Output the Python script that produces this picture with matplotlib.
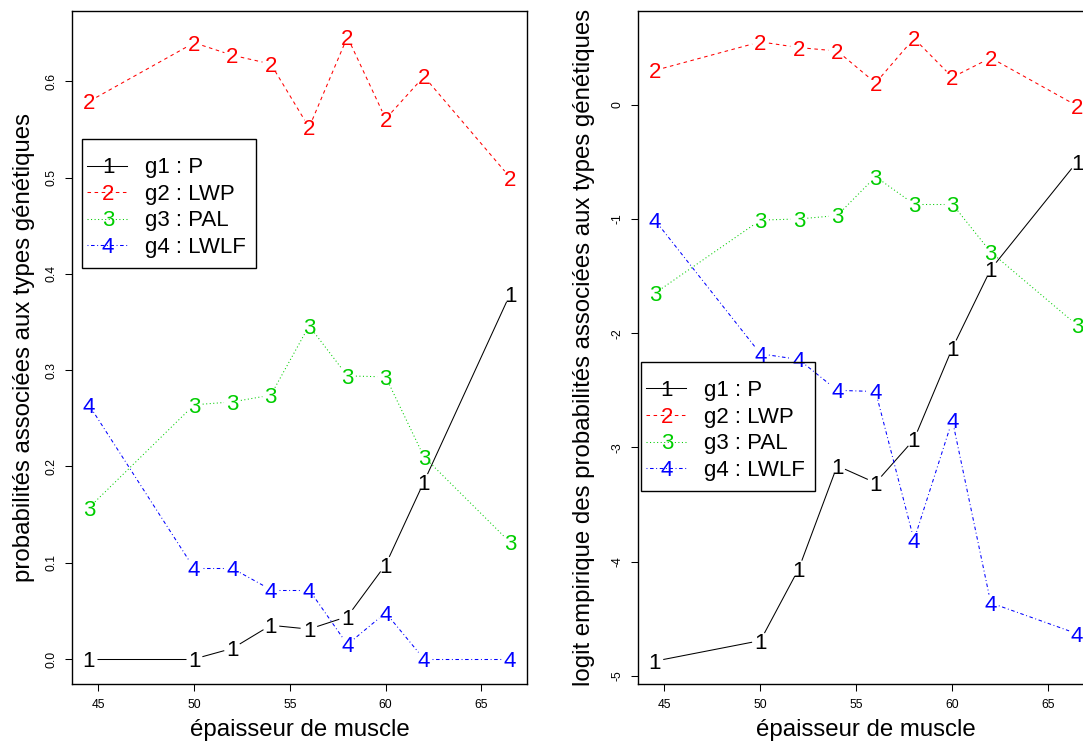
import matplotlib
matplotlib.use("Agg")
import matplotlib.pyplot as plt
from matplotlib.patches import Rectangle
from matplotlib.lines import Line2D
from matplotlib import transforms
import numpy as np

plt.rcParams['font.family'] = ['Liberation Sans', 'DejaVu Sans']

# ---------------- data ----------------
epaisseur = [44.5, 50, 52, 54, 56, 58, 60, 62, 66.5]

prob_g1 = [0.000, 0.000, 0.011, 0.035, 0.031, 0.044, 0.098, 0.184, 0.379]
prob_g2 = [0.579, 0.640, 0.627, 0.618, 0.552, 0.646, 0.561, 0.605, 0.500]
prob_g3 = [0.157, 0.264, 0.267, 0.274, 0.346, 0.294, 0.293, 0.210, 0.121]
prob_g4 = [0.264, 0.094, 0.094, 0.072, 0.072, 0.015, 0.048, 0.000, 0.000]

logit_g1 = [-4.87, -4.69, -4.06, -3.16, -3.31, -2.93, -2.13, -1.44, -0.50]
logit_g2 = [0.30, 0.55, 0.50, 0.47, 0.19, 0.58, 0.24, 0.41, -0.01]
logit_g3 = [-1.65, -1.01, -1.00, -0.97, -0.63, -0.87, -0.87, -1.29, -1.93]
logit_g4 = [-1.01, -2.18, -2.23, -2.50, -2.51, -3.81, -2.76, -4.36, -4.63]

series_symbols = ["1", "2", "3", "4"]
legend_labels = ["g1 : P", "g2 : LWP", "g3 : PAL", "g4 : LWLF"]
colors = ["#000000", "#FF0000", "#00CD00", "#0000FF"]
dash_styles = ["-", (0, (3.4, 3.4)), (0, (1.0, 2.4)), (0, (0.9, 2.5, 3.4, 2.5))]

x_ticks = [45, 50, 55, 60, 65]
left_yticks = [0.0, 0.1, 0.2, 0.3, 0.4, 0.5, 0.6]
left_yticklabels = ["0.0", "0.1", "0.2", "0.3", "0.4", "0.5", "0.6"]
right_yticks = [0, -1, -2, -3, -4, -5]
right_yticklabels = ["0", "-1", "-2", "-3", "-4", "-5"]

xlabel = "épaisseur de muscle"
left_ylabel = "probabilités associées aux types génétiques"
right_ylabel = "logit empirique des probabilités associées aux types génétiques"

# ---------------- layout ----------------
W, H = 1083, 745
DPI = 100
fig = plt.figure(figsize=(W / DPI, H / DPI), dpi=DPI)


def fx(px):
    return px / W


def fy(py):
    return 1 - py / H


axL = fig.add_axes([fx(72), fy(684), (527 - 72) / W, (684 - 11) / H])
axR = fig.add_axes([fx(638), fy(684), (1094 - 638) / W, (684 - 11) / H])

XLIM = (43.62, 67.38)
axL.set_xlim(*XLIM)
axR.set_xlim(*XLIM)
axL.set_ylim(-0.026, 0.673)
axR.set_ylim(-5.07, 0.82)

LABEL_FS = 16
CAP = 0.716 * LABEL_FS * DPI / 72.0  # digit height in px
GAP = 8.5  # px gap around symbols (type = "b")


def draw_series(ax, xs, ys, color, ls, sym):
    tr = ax.transData
    inv = tr.inverted()
    pts = tr.transform(np.column_stack([xs, ys]))
    for i in range(len(pts) - 1):
        p0, p1 = pts[i], pts[i + 1]
        d = p1 - p0
        L = np.hypot(*d)
        if L <= 2 * GAP:
            continue
        u = d / L
        a = inv.transform(p0 + u * GAP)
        b = inv.transform(p1 - u * GAP)
        ax.plot([a[0], b[0]], [a[1], b[1]], color=color, lw=0.75,
                linestyle=ls, solid_capstyle='butt', dash_capstyle='butt',
                clip_on=False)
    off = transforms.offset_copy(tr, fig=fig, x=0, y=-CAP / 2, units='dots')
    for x, y in zip(xs, ys):
        ax.text(x, y, sym, transform=off, ha='center', va='baseline',
                fontsize=LABEL_FS, color=color, clip_on=False)


def style_axes(ax, yticks, yticklabels):
    for s in ax.spines.values():
        s.set_linewidth(1.0)
        s.set_color('black')
    ax.set_xticks(x_ticks)
    ax.set_xticklabels([str(t) for t in x_ticks])
    ax.set_yticks(yticks)
    ax.set_yticklabels(yticklabels)
    ax.tick_params(axis='both', direction='out', length=5, width=0.75,
                   labelsize=8.7, pad=5.5, colors='black')
    for lab in ax.get_yticklabels():
        lab.set_rotation(90)
        lab.set_va('center')
        lab.set_ha('right')


style_axes(axL, left_yticks, left_yticklabels)
style_axes(axR, right_yticks, right_yticklabels)

left_data = [prob_g1, prob_g2, prob_g3, prob_g4]
right_data = [logit_g1, logit_g2, logit_g3, logit_g4]
for k in range(4):
    draw_series(axL, epaisseur, left_data[k], colors[k], dash_styles[k], series_symbols[k])
    draw_series(axR, epaisseur, right_data[k], colors[k], dash_styles[k], series_symbols[k])

# axis labels
AX_FS = 17.3
fig.text(fx(300), fy(730), xlabel, ha='center', va='center', fontsize=AX_FS)
fig.text(fx(866), fy(730), xlabel, ha='center', va='center', fontsize=AX_FS)
fig.text(fx(24), fy(347.5), left_ylabel, ha='center', va='center',
         rotation=90, fontsize=AX_FS)
fig.text(fx(584), fy(347.5), right_ylabel, ha='center', va='center',
         rotation=90, fontsize=AX_FS)


# legends (drawn in pixel layout)
def draw_legend(left, top):
    box_w, box_h = 174, 129
    fig.add_artist(Rectangle((fx(left), fy(top + box_h)), box_w / W, box_h / H,
                             transform=fig.transFigure, fill=False,
                             edgecolor='black', lw=1.0, zorder=5))
    rows = [26.5, 53, 79.5, 106]
    for k in range(4):
        yy = top + rows[k]
        fig.add_artist(Line2D([fx(left + 5), fx(left + 45)], [fy(yy), fy(yy)],
                              transform=fig.transFigure, color=colors[k],
                              lw=0.75, linestyle=dash_styles[k], zorder=5))
        fig.text(fx(left + 26), fy(yy + CAP / 2), series_symbols[k],
                 ha='center', va='baseline', fontsize=LABEL_FS,
                 color=colors[k], zorder=6)
        fig.text(fx(left + 63), fy(yy + CAP / 2), legend_labels[k],
                 ha='left', va='baseline', fontsize=LABEL_FS,
                 color='black', zorder=6)


draw_legend(82, 139)
draw_legend(641, 362)

fig.savefig("out.png", dpi=DPI)
